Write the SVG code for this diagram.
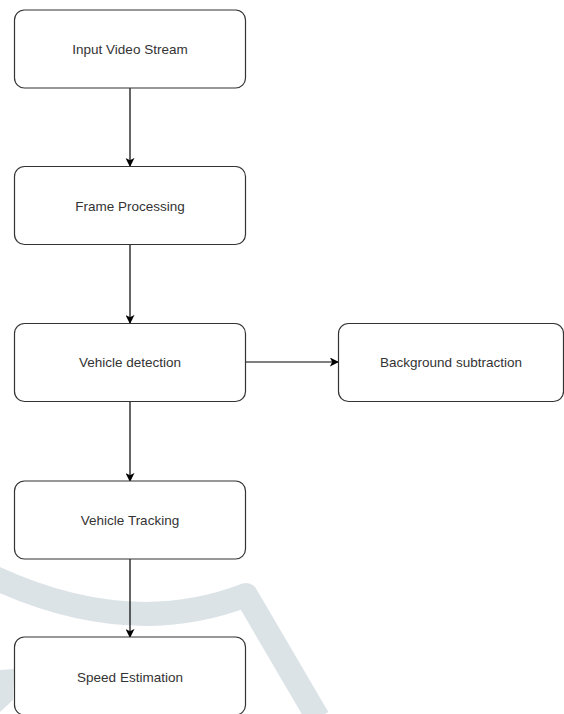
<svg xmlns="http://www.w3.org/2000/svg" width="564" height="714" viewBox="0 0 564 714">
<style>
.box{fill:#ffffff;stroke:#333333;stroke-width:1.2}
.lbl{font-family:"Liberation Sans",Arial,sans-serif;font-size:13.5px;fill:#333333;text-anchor:middle}
.edge{stroke:#000000;stroke-width:1.2;fill:none}
.wm{stroke:#dce3e7;stroke-width:24;fill:none;stroke-linejoin:round}
</style>
<defs>
<marker id="arr" viewBox="0 0 10 10" refX="9" refY="5" markerWidth="9" markerHeight="9" markerUnits="userSpaceOnUse" orient="auto">
<path d="M0,0 L10,5 L0,10 L2.5,5 Z" fill="#000000"/>
</marker>
</defs>
<rect width="564" height="714" fill="#ffffff"/>
<g id="watermark">
<path class="wm" d="M -5 578 Q 130 640 246 595 L 318 718"/>
<path d="M0,670 L14,669 L13,700 L0,712 Z" fill="#dce3e7"/>
</g>
<g id="connectors">
<line class="edge" x1="130" y1="88" x2="130" y2="166" marker-end="url(#arr)"/>
<line class="edge" x1="130" y1="245" x2="130" y2="323" marker-end="url(#arr)"/>
<line class="edge" x1="245" y1="362" x2="338" y2="362" marker-end="url(#arr)"/>
<line class="edge" x1="130" y1="402" x2="130" y2="481" marker-end="url(#arr)"/>
<line class="edge" x1="130" y1="559" x2="130" y2="637" marker-end="url(#arr)"/>
</g>
<g id="n1"><rect class="box" x="14.5" y="10" width="231" height="78" rx="10"/><text class="lbl" x="130" y="54">Input Video Stream</text></g>
<g id="n2"><rect class="box" x="14.5" y="166.5" width="231" height="78" rx="10"/><text class="lbl" x="130" y="210.5">Frame Processing</text></g>
<g id="n3"><rect class="box" x="14.5" y="323.5" width="231" height="78" rx="10"/><text class="lbl" x="130" y="367">Vehicle detection</text></g>
<g id="n4"><rect class="box" x="338.5" y="323.5" width="225" height="78" rx="10"/><text class="lbl" x="451" y="367">Background subtraction</text></g>
<g id="n5"><rect class="box" x="14.5" y="481" width="231" height="78" rx="10"/><text class="lbl" x="130" y="525">Vehicle Tracking</text></g>
<g id="n6"><rect class="box" x="14.5" y="637" width="231" height="78" rx="10"/><text class="lbl" x="130" y="681.5">Speed Estimation</text></g>
</svg>
